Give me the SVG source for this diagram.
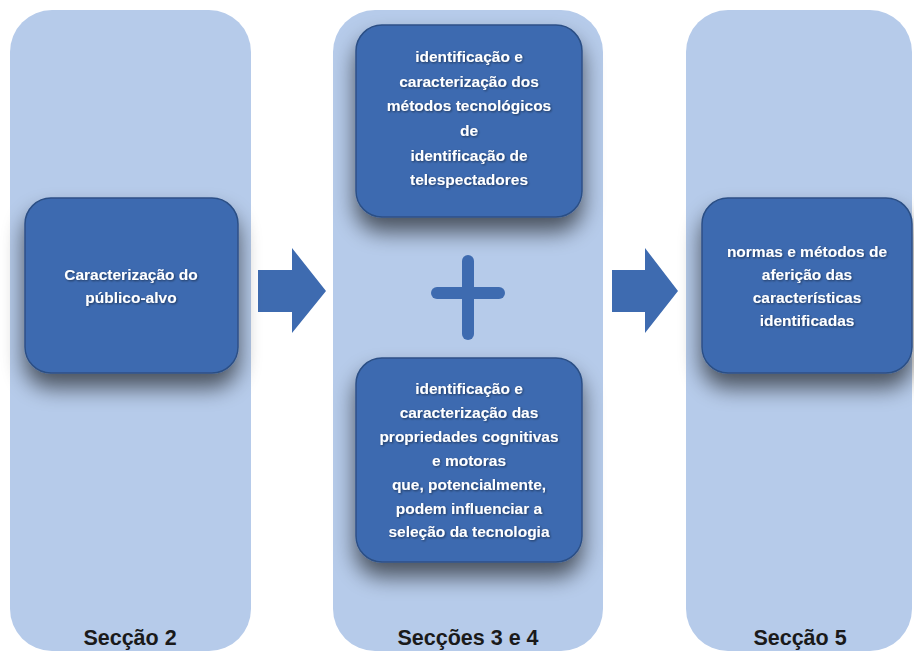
<svg xmlns="http://www.w3.org/2000/svg" width="914" height="652" viewBox="0 0 914 652">
<defs>
<filter id="sh" x="-30%" y="-30%" width="160%" height="180%">
<feGaussianBlur in="SourceAlpha" stdDeviation="11"/>
<feOffset dx="0" dy="14" result="b"/>
<feComponentTransfer><feFuncA type="linear" slope="0.6"/></feComponentTransfer>
<feMerge><feMergeNode/><feMergeNode in="SourceGraphic"/></feMerge>
</filter>
<filter id="tsh" x="-10%" y="-20%" width="120%" height="140%">
<feGaussianBlur in="SourceAlpha" stdDeviation="0.8"/>
<feOffset dx="1" dy="1"/>
<feComponentTransfer><feFuncA type="linear" slope="0.5"/></feComponentTransfer>
<feMerge><feMergeNode/><feMergeNode in="SourceGraphic"/></feMerge>
</filter>
</defs>
<style>
.panel{fill:#b6cbea;}
.node{fill:#3e6bb0;stroke:#2c4f86;stroke-width:1.5;}
.t{font-family:"Liberation Sans",Arial,sans-serif;font-weight:bold;font-size:15.5px;fill:#ffffff;text-anchor:middle;}
.lab{font-family:"Liberation Sans",Arial,sans-serif;font-weight:bold;font-size:21.5px;fill:#1a1a1a;text-anchor:middle;}
.arr{fill:#3e6bb0;}
</style>
<rect width="914" height="652" fill="#ffffff"/>
<g id="panel-s2"><rect class="panel" x="10" y="10" width="241" height="641" rx="42"/><text class="lab" x="130" y="645">Secção 2</text></g>
<g id="panel-s34"><rect class="panel" x="333" y="10" width="270" height="641" rx="42"/><text class="lab" x="468" y="645">Secções 3 e 4</text></g>
<g id="panel-s5"><rect class="panel" x="686" y="10" width="226" height="641" rx="42"/><text class="lab" x="800" y="645">Secção 5</text></g>
<g id="connectors">
<polygon class="arr" points="258,270 292,270 292,248 326,291 292,333 292,312 258,312"/>
<polygon class="arr" points="612,270 645,270 645,248 678,291 645,333 645,312 612,312"/>
<g id="plus" stroke="#3e6bb0" stroke-width="12" stroke-linecap="round"><line x1="437" y1="293" x2="499" y2="293"/><line x1="468" y1="261" x2="468" y2="334"/></g>
</g>
<g id="node-publico"><rect class="node" x="25" y="198" width="213" height="175" rx="26" filter="url(#sh)"/>
<g filter="url(#tsh)"><text class="t" x="131" y="280">Caracterização do</text><text class="t" x="131" y="303">público-alvo</text></g></g>
<g id="node-metodos"><rect class="node" x="356" y="25" width="226" height="192" rx="26" filter="url(#sh)"/>
<g filter="url(#tsh)"><text class="t" x="469" y="62">identificação e</text><text class="t" x="469" y="87">caracterização dos</text><text class="t" x="469" y="111">métodos tecnológicos</text><text class="t" x="469" y="136">de</text><text class="t" x="469" y="161">identificação de</text><text class="t" x="469" y="185">telespectadores</text></g></g>
<g id="node-propriedades"><rect class="node" x="356" y="358" width="226" height="204" rx="26" filter="url(#sh)"/>
<g filter="url(#tsh)"><text class="t" x="469" y="394">identificação e</text><text class="t" x="469" y="418">caracterização das</text><text class="t" x="469" y="442">propriedades cognitivas</text><text class="t" x="469" y="466">e motoras</text><text class="t" x="469" y="490">que, potencialmente,</text><text class="t" x="469" y="514">podem influenciar a</text><text class="t" x="469" y="537">seleção da tecnologia</text></g></g>
<g id="node-normas"><rect class="node" x="702" y="198" width="210" height="175" rx="26" filter="url(#sh)"/>
<g filter="url(#tsh)"><text class="t" x="807" y="257">normas e métodos de</text><text class="t" x="807" y="280">aferição das</text><text class="t" x="807" y="303">características</text><text class="t" x="807" y="326">identificadas</text></g></g>
</svg>
